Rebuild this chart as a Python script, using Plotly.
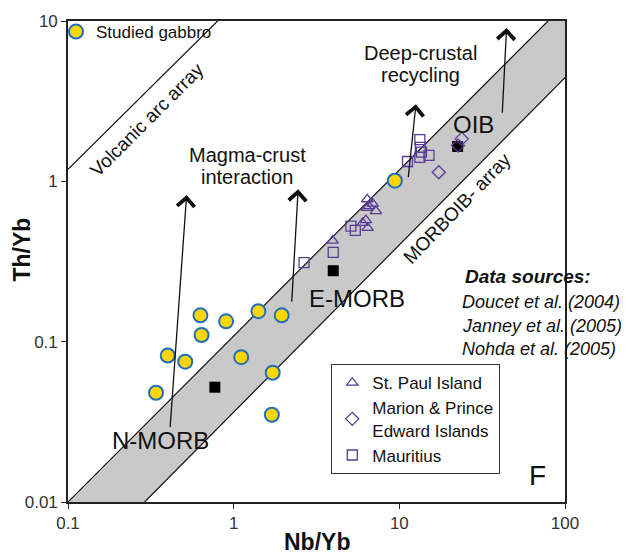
import numpy as np
import plotly.graph_objects as go

# ---------------- data ----------------
gabbro_nb_yb = [0.34, 0.40, 0.51, 0.63, 0.64, 0.90, 1.11, 1.41, 1.72, 1.70, 1.95, 9.4]
gabbro_th_yb = [0.048, 0.082, 0.075, 0.146, 0.110, 0.134, 0.080, 0.155, 0.064, 0.035, 0.146, 1.01]

stpaul_nb_yb = [6.40, 6.90, 6.35, 6.55, 7.22, 6.28, 6.00, 6.44, 3.96]
stpaul_th_yb = [0.773, 0.726, 0.683, 0.700, 0.652, 0.573, 0.550, 0.513, 0.427]

marion_nb_yb = [23.8, 22.6, 17.3]
marion_th_yb = [1.84, 1.67, 1.14]

mauritius_nb_yb = [5.10, 5.42, 3.99, 2.66, 11.2, 13.3, 13.4, 13.6, 13.3, 15.1]
mauritius_th_yb = [0.526, 0.494, 0.360, 0.311, 1.33, 1.82, 1.63, 1.52, 1.41, 1.45]

ref_names = ["N-MORB", "E-MORB", "OIB"]
ref_nb_yb = [0.77, 3.99, 22.5]
ref_th_yb = [0.052, 0.277, 1.65]

# MORB-OIB array boundaries and volcanic arc array line
array_upper_nb = [0.1, 79.0]
array_upper_th = [0.01, 10.0]
array_lower_nb = [0.29, 100.0]
array_lower_th = [0.01, 4.43]
arc_nb = [0.1, 0.80]
arc_th = [1.19, 10.0]

# trend arrows: (tail Nb/Yb, tail Th/Yb, head Nb/Yb, head Th/Yb)
arrow_tail_nb = [0.413, 2.24, 11.3, 41.8]
arrow_tail_th = [0.0287, 0.174, 1.04, 2.62]
arrow_head_nb = [0.52, 2.45, 12.6, 44.4]
arrow_head_th = [0.822, 0.892, 3.03, 9.05]

x_tickvals = [0.1, 1, 10, 100]
x_ticktext = ["0.1", "1", "10", "100"]
y_tickvals = [0.01, 0.1, 1, 10]
y_ticktext = ["0.01", "0.1", "1", "10"]

# ---------------- layout geometry ----------------
W, H = 630, 555
L, R, T, B = 68, 65, 18, 53
PW, PH = W - L - R, H - T - B
FONT = "Liberation Sans, Arial, sans-serif"
PURPLE = "#5b3b98"


def px(x, y):
    return (x - L) / PW, 1 - (y - T) / PH


fig = go.Figure()

# gray MORB-OIB array band
band_x = array_upper_nb + [100.0] + array_lower_nb[::-1]
band_y = array_upper_th + [10.0] + array_lower_th[::-1]
fig.add_trace(go.Scatter(x=band_x, y=band_y, fill="toself", fillcolor="#c9c9c9",
                         mode="none", showlegend=False, hoverinfo="skip"))
for xs, ys in [(array_upper_nb, array_upper_th), (array_lower_nb, array_lower_th), (arc_nb, arc_th)]:
    fig.add_trace(go.Scatter(x=xs, y=ys, mode="lines", line=dict(color="#111", width=1.2),
                             showlegend=False, hoverinfo="skip"))

# reference compositions
fig.add_trace(go.Scatter(x=ref_nb_yb, y=ref_th_yb, mode="markers", text=ref_names,
                         marker=dict(symbol="square", size=11, color="#000"),
                         showlegend=False))

# published OIB data
fig.add_trace(go.Scatter(x=stpaul_nb_yb, y=stpaul_th_yb, mode="markers", name="St. Paul Island",
                         marker=dict(symbol="triangle-up-open", size=10, color=PURPLE,
                                     line=dict(width=1.3, color=PURPLE)), legend="legend"))
fig.add_trace(go.Scatter(x=marion_nb_yb, y=marion_th_yb, mode="markers",
                         name="Marion & Prince<br>Edward Islands",
                         marker=dict(symbol="diamond-open", size=10, color=PURPLE,
                                     line=dict(width=1.3, color=PURPLE)), legend="legend"))
fig.add_trace(go.Scatter(x=mauritius_nb_yb, y=mauritius_th_yb, mode="markers", name="Mauritius",
                         marker=dict(symbol="square-open", size=10, color=PURPLE,
                                     line=dict(width=1.3, color=PURPLE)), legend="legend"))

# studied gabbro
fig.add_trace(go.Scatter(x=gabbro_nb_yb, y=gabbro_th_yb, mode="markers", name="Studied gabbro",
                         marker=dict(symbol="circle", size=14, color="#ffd700",
                                     line=dict(width=2, color="#1f6fbf")), legend="legend2"))

annotations = []

# arrows
for tx, ty, hx, hy in zip(arrow_tail_nb, arrow_tail_th, arrow_head_nb, arrow_head_th):
    annotations.append(dict(x=np.log10(hx), y=np.log10(hy), ax=np.log10(tx), ay=np.log10(ty),
                            xref="x", yref="y", axref="x", ayref="y", text="",
                            showarrow=True, arrowhead=4, arrowsize=2.6, arrowwidth=1.3,
                            arrowcolor="#111", standoff=0, startstandoff=0))


def label(text, x, y, size, angle=0, bold=False, italic=False, xanchor="center", color="#111"):
    px_, py_ = px(x, y)
    if bold:
        text = f"<b>{text}</b>"
    if italic:
        text = f"<i>{text}</i>"
    annotations.append(dict(text=text, x=px_, y=py_, xref="paper", yref="paper",
                            showarrow=False, textangle=angle, xanchor=xanchor, yanchor="middle",
                            font=dict(family=FONT, size=size, color=color)))


label("Volcanic arc array", 147, 117, 19, angle=-45)
label("MORBOIB- array", 457, 207, 19, angle=-46)
label("Magma-crust", 247, 153, 20)
label("interaction", 247, 175, 20)
label("Deep-crustal", 420, 50, 20)
label("recycling", 420, 72, 20)
label("OIB", 473, 122, 24)
label("E-MORB", 357, 297, 24)
label("N-MORB", 160, 440, 24)
label("F", 537, 475, 28)
label("Data sources:", 463, 275, 19, bold=True, italic=True, xanchor="left")
label("Doucet et al. (2004)", 460, 301, 18, italic=True, xanchor="left")
label("Janney et al. (2005)", 460, 325, 18, italic=True, xanchor="left")
label("Nohda et al. (2005)", 460, 348, 18, italic=True, xanchor="left")
label("Nb/Yb", 317, 542, 23, bold=True)
label("Th/Yb", 22, 248, 23, bold=True, angle=-90)

lx1, ly1 = px(331, 363)
lx2, ly2 = px(56, 11)

fig.update_layout(
    width=W, height=H,
    margin=dict(l=L, r=R, t=T, b=B),
    paper_bgcolor="white", plot_bgcolor="white",
    font=dict(family=FONT, size=17, color="#222"),
    annotations=annotations,
    legend=dict(x=lx1, y=ly1, xanchor="left", yanchor="top", bgcolor="white",
                bordercolor="#333", borderwidth=1.3, font=dict(family=FONT, size=17, color="#111"),
                tracegroupgap=0),
    legend2=dict(x=lx2, y=ly2, xanchor="left", yanchor="top", bgcolor="rgba(0,0,0,0)",
                 borderwidth=0, font=dict(family=FONT, size=17, color="#111")),
    xaxis=dict(type="log", range=[-1, 2], tickvals=x_tickvals, ticktext=x_ticktext,
               ticks="outside", ticklen=5, tickcolor="#222", showline=True, mirror=True,
               linecolor="#222", linewidth=1.6, showgrid=False, zeroline=False,
               tickfont=dict(family=FONT, size=17, color="#333")),
    yaxis=dict(type="log", range=[-2, 1], tickvals=y_tickvals, ticktext=y_ticktext,
               ticks="outside", ticklen=5, tickcolor="#222", showline=True, mirror=True,
               linecolor="#222", linewidth=1.6, showgrid=False, zeroline=False,
               tickfont=dict(family=FONT, size=17, color="#333")),
)

fig.write_html("out.html")
